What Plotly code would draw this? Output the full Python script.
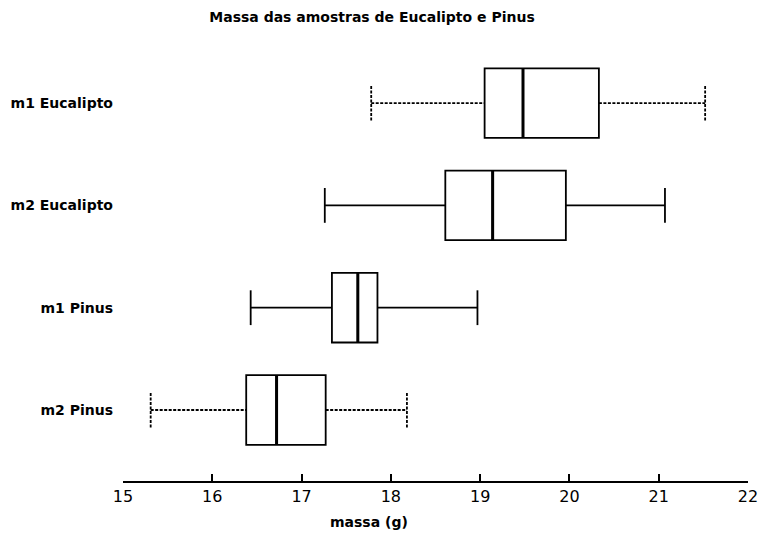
import plotly.graph_objects as go

categories = ["m1 Eucalipto", "m2 Eucalipto", "m1 Pinus", "m2 Pinus"]
lower_whisker = [17.78, 17.26, 16.43, 15.31]
q1 = [19.05, 18.61, 17.34, 16.38]
median = [19.48, 19.14, 17.63, 16.72]
q3 = [20.33, 19.96, 17.85, 17.27]
upper_whisker = [21.52, 21.07, 18.97, 18.18]
whisker_dash = ["3px,1.5px", "solid", "solid", "3px,1.5px"]
x_ticks = [15, 16, 17, 18, 19, 20, 21, 22]

n = len(categories)
positions = [n - 1 - i for i in range(n)]  # top to bottom
box_w = 0.68
cap = 0.17
LW = 1.8
FONT = "DejaVu Sans"

fig = go.Figure()

for i, cat in enumerate(categories):
    p = positions[i]
    fig.add_trace(go.Box(
        y=[p], q1=[q1[i]], median=[median[i]], q3=[q3[i]],
        lowerfence=[q1[i]], upperfence=[q3[i]],
        orientation="h", width=box_w, whiskerwidth=0,
        line=dict(color="black", width=LW), fillcolor="rgba(255,255,255,0)",
        boxpoints=False, showlegend=False, hoverinfo="skip",
    ))
    fig.add_trace(go.Scatter(
        x=[median[i], median[i]], y=[p - box_w / 2, p + box_w / 2],
        mode="lines", line=dict(color="black", width=3),
        showlegend=False, hoverinfo="skip",
    ))
    lo, hi = lower_whisker[i], upper_whisker[i]
    fig.add_trace(go.Scatter(
        x=[lo, lo, None, lo, q1[i], None, q3[i], hi, None, hi, hi],
        y=[p - cap, p + cap, None, p, p, None, p, p, None, p - cap, p + cap],
        mode="lines", line=dict(color="black", width=LW, dash=whisker_dash[i]),
        showlegend=False, hoverinfo="skip", connectgaps=False,
    ))

fig.update_layout(
    width=758, height=534,
    margin=dict(l=123, r=10, t=45, b=53),
    paper_bgcolor="white", plot_bgcolor="white",
    font=dict(family=FONT, color="black"),
    title=dict(text="Massa das amostras de Eucalipto e Pinus",
               x=372 / 758, xref="container", xanchor="center",
               y=1 - 17 / 534, yref="container", yanchor="middle",
               font=dict(size=14, family=FONT, weight="bold", color="black")),
    xaxis=dict(range=[15, 22], tickvals=x_ticks, ticktext=[str(t) for t in x_ticks],
               showline=True, linecolor="black", linewidth=2,
               ticks="inside", ticklen=7, tickwidth=2, tickcolor="black",
               showgrid=False, zeroline=False, ticklabeloverflow="allow",
               automargin=False,
               tickfont=dict(size=16, family=FONT, color="black"),
               fixedrange=True),
    yaxis=dict(range=[-0.694, 3.568], tickvals=positions, ticktext=categories,
               showline=False, showgrid=False, zeroline=False, ticks="",
               ticklabelstandoff=9, automargin=False,
               tickfont=dict(size=14, family=FONT, weight="bold", color="black"),
               fixedrange=True),
    annotations=[dict(text="massa (g)", xref="paper", yref="paper",
                      x=(369 - 123) / 625, y=-(522 - 481) / 436,
                      xanchor="center", yanchor="middle", showarrow=False,
                      font=dict(size=14, family=FONT, weight="bold", color="black"))],
)

fig.write_html("out.html", config={"displayModeBar": False},
               post_script="document.body.style.margin='0';")
